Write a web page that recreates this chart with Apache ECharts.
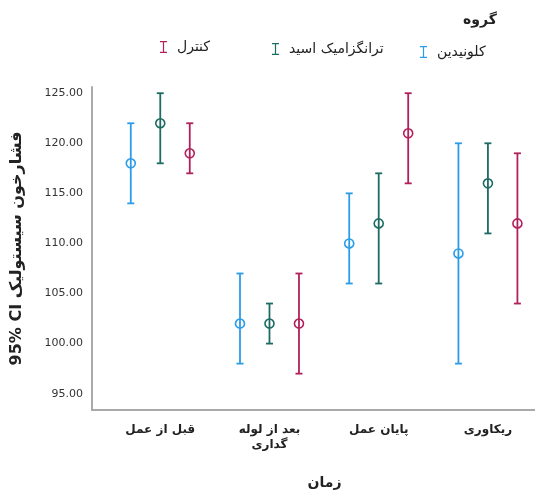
<!DOCTYPE html>
<html>
<head>
<meta charset="utf-8">
<script src="https://cdn.jsdelivr.net/npm/echarts@6/dist/echarts.min.js"></script>
<style>html,body{margin:0;padding:0;background:#fff;}#c{width:535px;height:495px;}</style>
</head>
<body>
<div id="c"></div>
<script>
const categories = ['قبل از عمل', 'بعد از لوله گداری', 'پایان عمل', 'ریکاوری'];
const groups = ['کلونیدین', 'ترانگزامیک اسید', 'کنترل'];
const meanClonidine = [118, 102, 110, 109];
const lowClonidine  = [114, 98, 106, 98];
const highClonidine = [122, 107, 115, 120];
const meanTranexamic = [122, 102, 112, 116];
const lowTranexamic  = [118, 100, 106, 111];
const highTranexamic = [125, 104, 117, 120];
const meanControl = [119, 102, 121, 112];
const lowControl  = [117, 97, 116, 104];
const highControl = [122, 107, 125, 119];
const yTickValues = [95, 100, 105, 110, 115, 120, 125];

const colors = ['#2a9ce8', '#1d6b63', '#b2205c'];
const means = [meanClonidine, meanTranexamic, meanControl];
const lows = [lowClonidine, lowTranexamic, lowControl];
const highs = [highClonidine, highTranexamic, highControl];
const offsets = [-0.27, 0, 0.27];
const FONT = 'DejaVu Sans';
const I_ICON = 'path://M0,0H7V1.2H4.1V10.8H7V12H0V10.8H2.9V1.2H0Z';

function wrapWords(s) {
  const w = s.split(' ');
  const lines = [];
  for (let i = 0; i < w.length; i += 3) lines.push(w.slice(i, i + 3).join(' '));
  return lines.join('\n');
}

function renderItem(params, api) {
  const x = api.value(0), lo = api.value(1), hi = api.value(2);
  const pLo = api.coord([x, lo]), pHi = api.coord([x, hi]);
  const cap = 3.5;
  const style = { stroke: api.visual('color'), lineWidth: 1.8 };
  return { type: 'group', children: [
    { type: 'line', shape: { x1: pHi[0], y1: pHi[1], x2: pLo[0], y2: pLo[1] }, style: style },
    { type: 'line', shape: { x1: pHi[0] - cap, y1: pHi[1], x2: pHi[0] + cap, y2: pHi[1] }, style: style },
    { type: 'line', shape: { x1: pLo[0] - cap, y1: pLo[1], x2: pLo[0] + cap, y2: pLo[1] }, style: style }
  ]};
}

const series = [];
groups.forEach(function (g, k) {
  series.push({
    name: g, type: 'custom', renderItem: renderItem, color: colors[k],
    data: categories.map(function (c, i) { return [i + offsets[k], lows[k][i], highs[k][i]]; }),
    z: 2
  });
  series.push({
    name: g, type: 'scatter', symbol: 'circle', symbolSize: 9,
    itemStyle: { color: 'rgba(255,255,255,0)', borderColor: colors[k], borderWidth: 1.6, opacity: 1 },
    data: categories.map(function (c, i) { return [i + offsets[k], means[k][i]]; }),
    z: 3
  });
});

const legendPos = [{ left: 420, top: 45 }, { left: 272, top: 42 }, { left: 160, top: 40 }];
const legends = groups.map(function (g, k) {
  return {
    left: legendPos[k].left, top: legendPos[k].top, padding: 0, orient: 'horizontal',
    itemWidth: 7, itemHeight: 12, selectedMode: false,
    textStyle: { fontFamily: FONT, fontSize: 14, color: '#222', padding: [0, 0, 0, 5] },
    data: [{ name: g, icon: I_ICON, itemStyle: { color: colors[k], borderWidth: 0 } }]
  };
});

const chart = echarts.init(document.getElementById('c'));
chart.setOption({
  animation: false,
  backgroundColor: '#fff',
  title: { text: 'گروه', left: 463, top: 13, padding: 0,
    textStyle: { fontFamily: FONT, fontSize: 14, fontWeight: 'bold', color: '#222' } },
  legend: legends,
  grid: { left: 92, right: 0, top: 87, bottom: 81 },
  xAxis: {
    type: 'value', min: -0.625, max: 3.431,
    name: 'زمان', nameLocation: 'middle', nameGap: 66,
    nameTextStyle: { fontFamily: FONT, fontSize: 14, fontWeight: 'bold', color: '#222', padding: [0, 0, 0, 22] },
    axisLine: { show: true, onZero: false, lineStyle: { color: '#a9a9a9', width: 2 } },
    axisTick: { show: false },
    splitLine: { show: false },
    axisLabel: {
      customValues: categories.map(function (c, i) { return i; }),
      formatter: function (v) { return wrapWords(categories[Math.round(v)]); },
      fontFamily: FONT, fontSize: 12, fontWeight: 'bold', color: '#222',
      margin: 12, lineHeight: 15
    }
  },
  yAxis: {
    type: 'value', min: 93.37, max: 125.62,
    name: '95% CI فشارخون سیستولیک', nameLocation: 'middle', nameGap: 67,
    nameTextStyle: { fontFamily: FONT, fontSize: 16, fontWeight: 'bold', color: '#222' },
    axisLine: { show: true, onZero: false, lineStyle: { color: '#a9a9a9', width: 2 } },
    axisTick: { show: false },
    splitLine: { show: false },
    axisLabel: {
      customValues: yTickValues,
      formatter: function (v) { return v.toFixed(2); },
      fontFamily: FONT, fontSize: 11, color: '#333', margin: 9
    }
  },
  series: series
});
</script>
</body>
</html>
